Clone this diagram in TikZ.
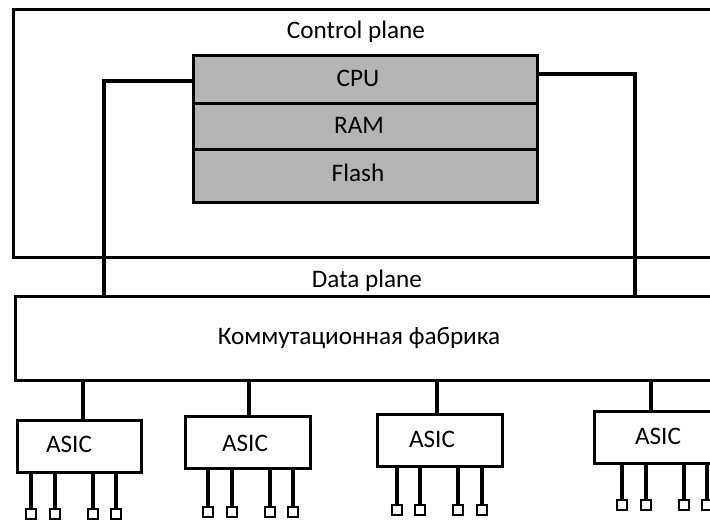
\documentclass[tikz,border=0pt]{standalone}
\usepackage{fontspec}
\setmainfont{Carlito}
\definecolor{memgray}{RGB}{180,180,180}
\begin{document}
\begin{tikzpicture}[x=1pt,y=-1pt,
  box/.style={draw=black, line width=3.2pt, fill=white, inner sep=0pt},
  mem/.style={draw=black, line width=3.2pt, fill=memgray, inner sep=0pt, minimum width=344pt},
  wire/.style={draw=black, line width=3.2pt},
  port/.style={draw=black, line width=2.6pt, fill=white, minimum size=10pt, inner sep=0pt},
  lbl/.style={font=\fontsize{25.2}{30}\selectfont, inner sep=0pt, anchor=base}]
\useasboundingbox (0,0) rectangle (710,521);
\clip (0,0) rectangle (710,521);
\fill[white] (0,0) rectangle (710,521);

% control plane
\node[box, anchor=north west, minimum width=720pt, minimum height=248pt] (ctrl) at (12,8) {};
\node[lbl] (ctrlt) at (356,39) {Control plane};

% memory stack
\node[mem, anchor=north west, minimum height=48pt] (cpu) at (192,54) {};
\node[mem, anchor=north west, minimum height=46pt] (ram) at (192,102) {};
\node[mem, anchor=north west, minimum height=53pt] (flash) at (192,148) {};
\node[lbl] (cput) at (358,87) {CPU};
\node[lbl] (ramt) at (359,134) {RAM};
\node[lbl] (flasht) at (358,182) {Flash};

% data plane
\node[lbl] (datat) at (367,288) {Data plane};
\node[box, anchor=north west, minimum width=720pt, minimum height=84pt] (fab) at (14,295) {};
\node[lbl] (fabt) at (359,345) {Коммутационная фабрика};

% CPU links
\coordinate (lc) at (104,81);
\coordinate (rc) at (635,74);
\draw[wire] (lc -| cpu.west) -- (lc) -- (lc |- fab.north);
\draw[wire] (rc -| cpu.east) -- (rc) -- (rc |- fab.north);

% ASICs
\node[box, anchor=north west, minimum width=124pt, minimum height=52pt] (a1) at (16,419) {};
\node[box, anchor=north west, minimum width=125pt, minimum height=52pt] (a2) at (184,415) {};
\node[box, anchor=north west, minimum width=125pt, minimum height=52pt] (a3) at (376,413) {};
\node[box, anchor=north west, minimum width=125pt, minimum height=52pt] (a4) at (593,410) {};
\node[lbl] (a1t) at (69,453) {ASIC};
\node[lbl] (a2t) at (245,451) {ASIC};
\node[lbl] (a3t) at (432,447) {ASIC};
\node[lbl] (a4t) at (658,445) {ASIC};

% drops from fabric
\coordinate (d1) at (83,0);
\coordinate (d2) at (249,0);
\coordinate (d3) at (437,0);
\coordinate (d4) at (651,0);
\draw[wire] (d1 |- fab.south) -- (d1 |- a1.north);
\draw[wire] (d2 |- fab.south) -- (d2 |- a2.north);
\draw[wire] (d3 |- fab.south) -- (d3 |- a3.north);
\draw[wire] (d4 |- fab.south) -- (d4 |- a4.north);

% ports
\foreach \a/\yc/\xa/\xb/\xc/\xd in {a1/514/31/55/93/116, a2/512/208/232/270/293, a3/510/397/420/458/482, a4/505/622/646/684/707}{
  \foreach \px [count=\k] in {\xa,\xb,\xc,\xd}{
    \node[port] (\a p\k) at (\px,\yc) {};
    \draw[wire] (\a p\k.north |- \a.south) -- (\a p\k.north);
  }
}
\end{tikzpicture}
\end{document}
